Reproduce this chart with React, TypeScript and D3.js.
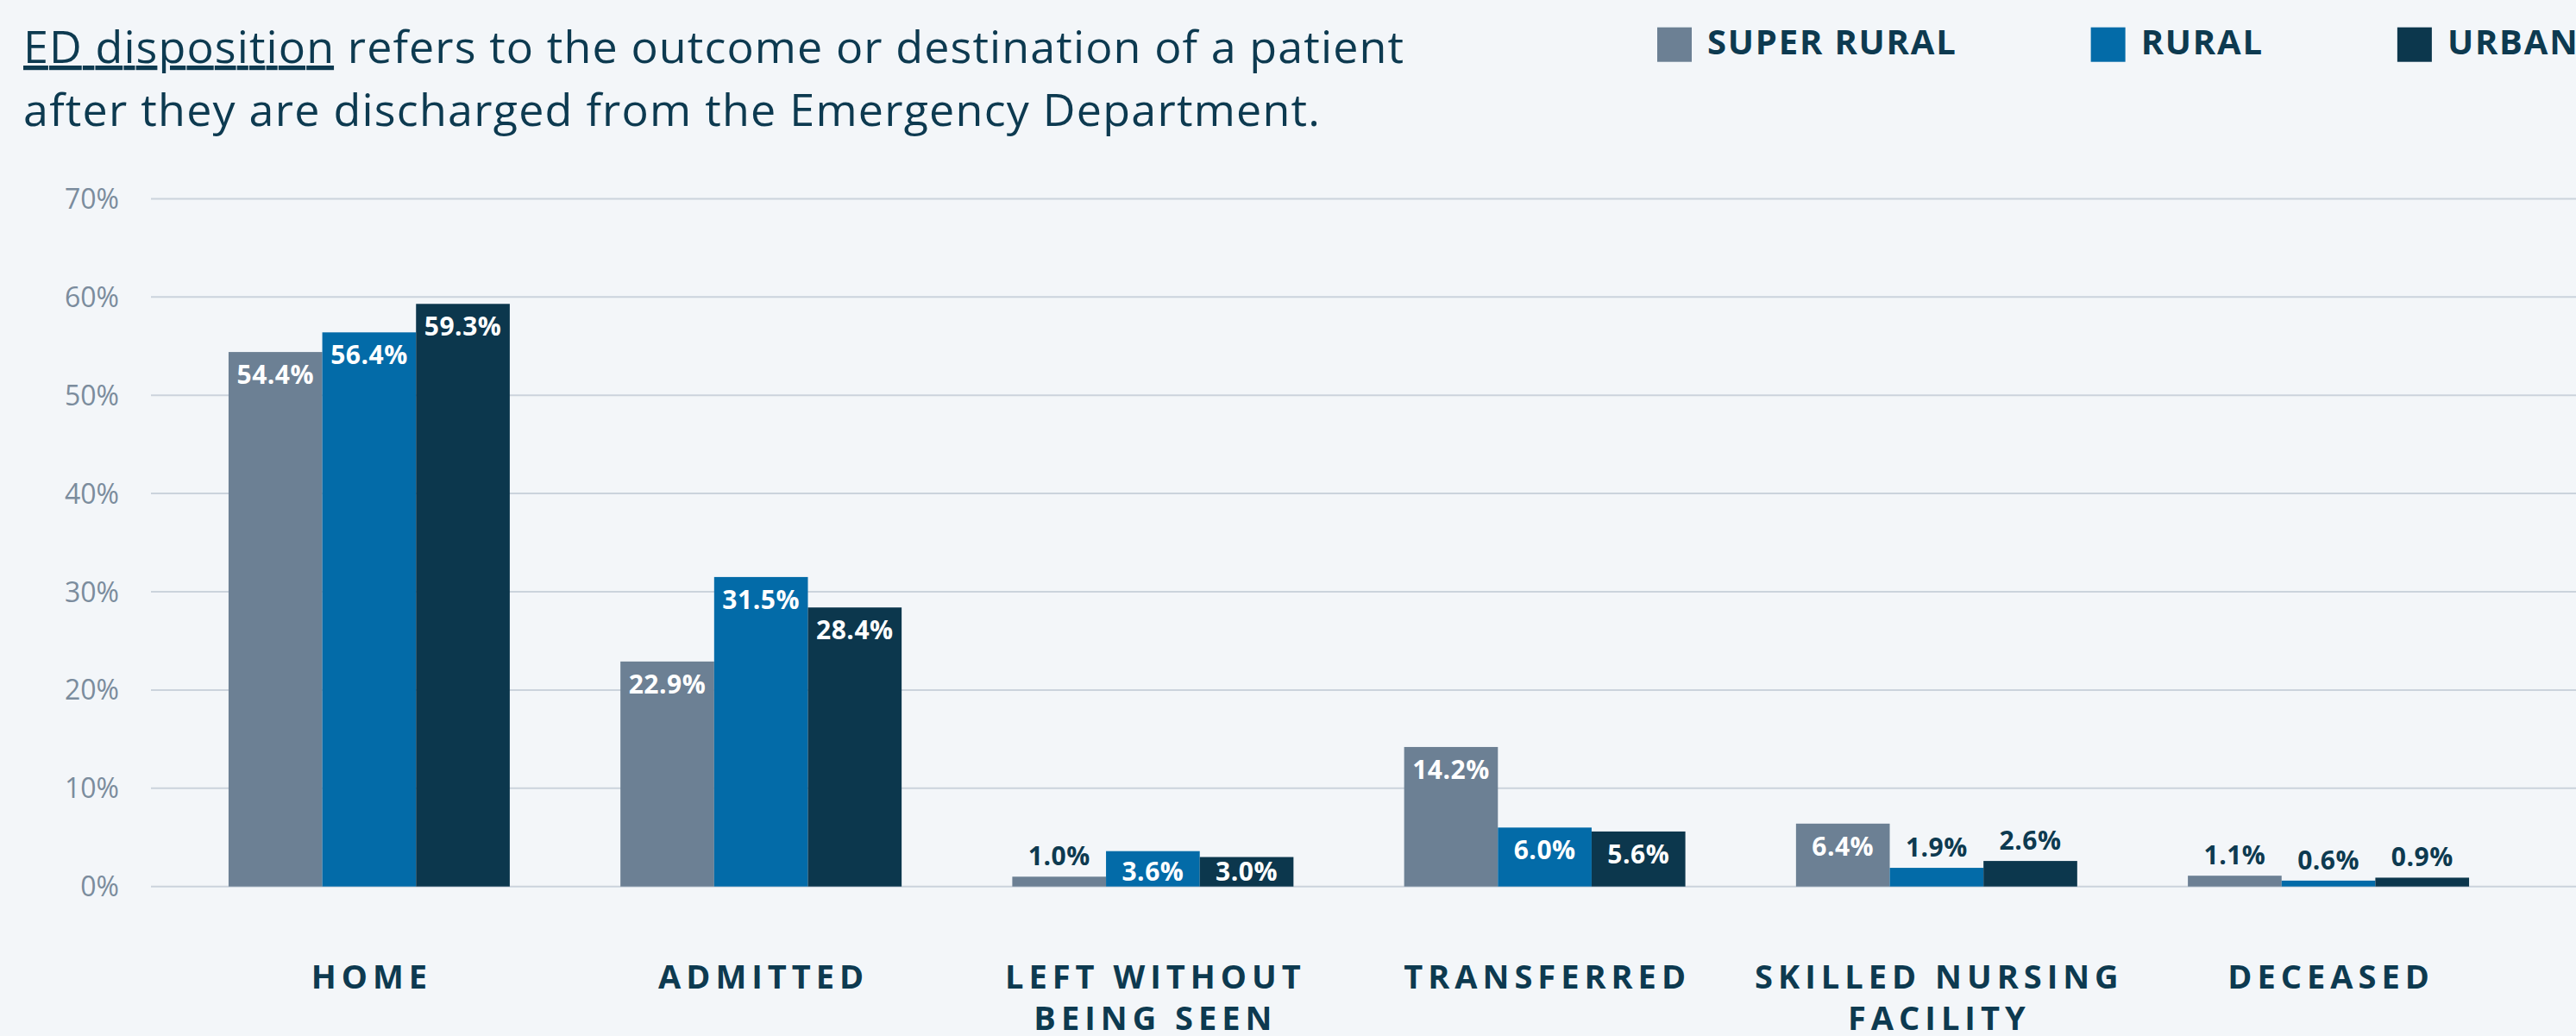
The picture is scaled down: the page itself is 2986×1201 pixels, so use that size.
import React, { useEffect, useRef } from "react";
import * as d3 from "d3";

const categories = [
  "HOME",
  "ADMITTED",
  "LEFT WITHOUT BEING SEEN",
  "TRANSFERRED",
  "SKILLED NURSING FACILITY",
  "DECEASED",
];
const seriesNames = ["SUPER RURAL", "RURAL", "URBAN"];
const superRural = [54.4, 22.9, 1.0, 14.2, 6.4, 1.1];
const rural = [56.4, 31.5, 3.6, 6.0, 1.9, 0.6];
const urban = [59.3, 28.4, 3.0, 5.6, 2.6, 0.9];
const yTicks = [0, 10, 20, 30, 40, 50, 60, 70];
const seriesColors = ["#6c8094", "#036ba8", "#0c374d"];
const titleLead = "ED disposition";
const titleRest1 = " refers to the outcome or destination of a patient";
const titleLine2 = "after they are discharged from the Emergency Department.";

const W = 2986;
const H = 1201;
const NAVY = "#0d3a50";
const FONT = "'Open Sans', 'Noto Sans', sans-serif";

function wrapWords(label: string, maxChars: number): string[] {
  const words = label.split(" ");
  const lines: string[] = [];
  let cur = "";
  for (const w of words) {
    const next = cur ? cur + " " + w : w;
    if (next.length > maxChars && cur) {
      lines.push(cur);
      cur = w;
    } else cur = next;
  }
  if (cur) lines.push(cur);
  return lines;
}

export default function App() {
  const ref = useRef<SVGSVGElement | null>(null);

  useEffect(() => {
    document.body.style.margin = "0";
    document.body.style.overflow = "hidden";
    const svg = d3.select(ref.current);
    svg.selectAll("*").remove();

    svg.append("rect").attr("width", W).attr("height", H).attr("fill", "#f3f6f9");

    const data = categories.map((c, i) => ({
      cat: c,
      vals: [superRural[i], rural[i], urban[i]],
    }));

    const x0 = d3
      .scaleBand<string>()
      .domain(categories)
      .range([175, 2952])
      .paddingInner(0.2824)
      .paddingOuter(0.198);
    const x1 = d3.scaleBand<string>().domain(seriesNames).range([0, x0.bandwidth()]);
    const y = d3.scaleLinear().domain([0, 70]).range([1027.7, 230.4]);

    // gridlines
    svg
      .append("g")
      .selectAll("line")
      .data(yTicks)
      .join("line")
      .attr("x1", 175)
      .attr("x2", W)
      .attr("y1", (d) => y(d))
      .attr("y2", (d) => y(d))
      .attr("stroke", "#cbd3dc")
      .attr("stroke-width", 2);

    // y labels
    svg
      .append("g")
      .selectAll("text")
      .data(yTicks)
      .join("text")
      .attr("x", 138)
      .attr("y", (d) => y(d))
      .attr("dy", "0.36em")
      .attr("text-anchor", "end")
      .attr("font-family", FONT)
      .attr("font-size", 32)
      .attr("fill", "#7b8c9d")
      .text((d) => `${d}%`);

    // bars
    const groups = svg
      .append("g")
      .selectAll("g")
      .data(data)
      .join("g")
      .attr("transform", (d) => `translate(${x0(d.cat)},0)`);

    groups
      .selectAll("rect")
      .data((d) => d.vals.map((v, i) => ({ v, s: seriesNames[i], i })))
      .join("rect")
      .attr("x", (d) => x1(d.s)!)
      .attr("width", x1.bandwidth())
      .attr("y", (d) => y(d.v))
      .attr("height", (d) => y(0) - y(d.v))
      .attr("fill", (d) => seriesColors[d.i]);

    groups
      .selectAll("text")
      .data((d) => d.vals.map((v, i) => ({ v, s: seriesNames[i], i })))
      .join("text")
      .attr("x", (d) => x1(d.s)! + x1.bandwidth() / 2)
      .attr("y", (d) => {
        const top = y(d.v);
        const h = y(0) - top;
        return h >= 32 ? Math.min(top + 37, y(0) - 7) : top - 13;
      })
      .attr("text-anchor", "middle")
      .attr("font-family", FONT)
      .attr("font-weight", 700)
      .attr("font-size", 30)
      .attr("letter-spacing", 0.5)
      .attr("fill", (d) => (y(0) - y(d.v) >= 32 ? "#ffffff" : NAVY))
      .text((d) => `${d.v.toFixed(1)}%`);

    // x labels
    const ls = 6;
    const xl = svg
      .append("g")
      .selectAll("text")
      .data(categories)
      .join("text")
      .attr("text-anchor", "middle")
      .attr("font-family", FONT)
      .attr("font-weight", 700)
      .attr("font-size", 38)
      .attr("letter-spacing", ls)
      .attr("fill", NAVY);
    xl.each(function (c) {
      const t = d3.select(this);
      wrapWords(c, 15).forEach((line, k) => {
        t.append("tspan")
          .attr("x", x0(c)! + x0.bandwidth() / 2 + ls / 2)
          .attr("y", 1146 + k * 47.5)
          .text(line);
      });
    });

    // title
    const t1 = svg
      .append("text")
      .attr("x", 27)
      .attr("y", 73)
      .attr("font-family", FONT)
      .attr("font-size", 52)
      .attr("fill", NAVY)
      .attr("textLength", 1600)
      .attr("lengthAdjust", "spacing");
    t1.append("tspan").attr("text-decoration", "underline").text(titleLead);
    t1.append("tspan").text(titleRest1);
    svg
      .append("text")
      .attr("x", 27)
      .attr("y", 146)
      .attr("font-family", FONT)
      .attr("font-size", 52)
      .attr("fill", NAVY)
      .attr("textLength", 1503)
      .attr("lengthAdjust", "spacing")
      .text(titleLine2);

    // legend
    const lg = svg.append("g");
    let lx = 1921;
    seriesNames.forEach((name, i) => {
      lg.append("rect")
        .attr("x", lx)
        .attr("y", 31.7)
        .attr("width", 40)
        .attr("height", 40)
        .attr("fill", seriesColors[i]);
      const tx = lg
        .append("text")
        .attr("x", lx + 58)
        .attr("y", 63.3)
        .attr("font-family", FONT)
        .attr("font-weight", 700)
        .attr("font-size", 40)
        .attr("letter-spacing", 1.8)
        .attr("fill", NAVY)
        .text(name);
      const w = (tx.node() as SVGTextElement).getComputedTextLength();
      lx = lx + 58 + w + 155;
    });
  }, []);

  return <svg ref={ref} width={W} height={H} style={{ display: "block" }} />;
}
